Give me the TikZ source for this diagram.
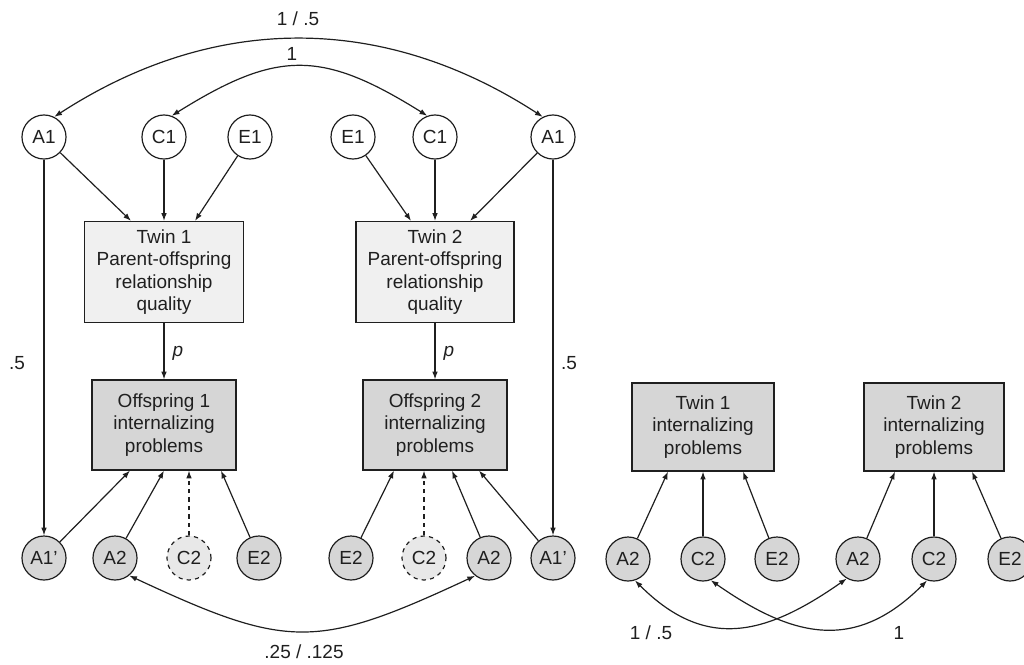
\documentclass[tikz,border=0pt]{standalone}
\usepackage{fontspec}
\setmainfont{Liberation Sans}
\usetikzlibrary{arrows.meta,calc}

\definecolor{lightbox}{gray}{0.94}
\definecolor{darkbox}{gray}{0.84}
\definecolor{dashfill}{gray}{0.91}
\definecolor{ink}{gray}{0.12}

\begin{document}
\begin{tikzpicture}[x=0.025cm, y=-0.025cm, line width=0.85pt,
  every node/.style={font=\fontsize{13.5}{16}\selectfont, text=ink},
  lat/.style={circle, draw=ink, minimum size=1.1cm, inner sep=0pt},
  latw/.style={lat, fill=white},
  latg/.style={lat, fill=darkbox},
  latd/.style={lat, fill=dashfill, dashed},
  obs/.style={rectangle, draw=ink, align=center, inner sep=2pt},
  arr/.style={draw=ink, -{Latex[length=5.5pt,width=4pt]}},
  cov/.style={draw=ink, {Latex[length=5.5pt,width=4pt]}-{Latex[length=5.5pt,width=4pt]}}
]

\useasboundingbox (0,0) rectangle (1024,664);

% top row
\node[latw] (a1l) at (44,137) {A1};
\node[latw] (c1l) at (164,137) {C1};
\node[latw] (e1l) at (250,137) {E1};
\node[latw] (e1r) at (353,137) {E1};
\node[latw] (c1r) at (435,137) {C1};
\node[latw] (a1r) at (553,137) {A1};

% boxes
\node[obs, fill=lightbox, minimum width=3.975cm, minimum height=2.525cm] (po1) at (164,272) {Twin 1\\Parent-offspring\\relationship\\quality};
\node[obs, fill=lightbox, minimum width=3.95cm, minimum height=2.525cm] (po2) at (435,272) {Twin 2\\Parent-offspring\\relationship\\quality};
\node[obs, fill=darkbox, minimum width=3.6cm, minimum height=2.25cm] (off1) at (164,425) {Offspring 1\\internalizing\\problems};
\node[obs, fill=darkbox, minimum width=3.6cm, minimum height=2.25cm] (off2) at (435,425) {Offspring 2\\internalizing\\problems};

% bottom row
\node[latg] (a1pl) at (44,558) {A1’};
\node[latg] (a2l) at (115,558) {A2};
\node[latd] (c2l) at (189,558) {C2};
\node[latg] (e2l) at (259,558) {E2};
\node[latg] (e2r) at (351,558) {E2};
\node[latd] (c2r) at (424,558) {C2};
\node[latg] (a2r) at (489,558) {A2};
\node[latg] (a1pr) at (553,558) {A1’};

% right model
\node[obs, fill=darkbox, minimum width=3.55cm, minimum height=2.2cm] (tw1) at (703,427) {Twin 1\\internalizing\\problems};
\node[obs, fill=darkbox, minimum width=3.5cm, minimum height=2.2cm] (tw2) at (934,427) {Twin 2\\internalizing\\problems};
\node[latg] (ra2l) at (628,559) {A2};
\node[latg] (rc2l) at (703,559) {C2};
\node[latg] (re2l) at (777,559) {E2};
\node[latg] (ra2r) at (858,559) {A2};
\node[latg] (rc2r) at (934,559) {C2};
\node[latg] (re2r) at (1010,559) {E2};

% paths into parent-offspring boxes
\draw[arr] (a1l) -- ($(po1.north)+(-33,0)$);
\draw[arr] (c1l) -- (po1.north);
\draw[arr] (e1l) -- ($(po1.north)+(31,0)$);
\draw[arr] (e1r) -- ($(po2.north)+(-24,0)$);
\draw[arr] (c1r) -- (po2.north);
\draw[arr] (a1r) -- ($(po2.north)+(35,0)$);

\draw[arr] (a1l) -- (a1pl);
\draw[arr] (a1r) -- (a1pr);

\draw[arr] (po1) -- (off1);
\draw[arr] (po2) -- (off2);

% paths into offspring boxes
\draw[arr] (a1pl) -- ($(off1.south)+(-34,0)$);
\draw[arr] (a2l) -- (off1.south);
\draw[arr, dashed] (c2l) -- ($(off1.south)+(25,0)$);
\draw[arr] (e2l) -- ($(off1.south)+(57,0)$);
\draw[arr] (e2r) -- ($(off2.south)+(-41,0)$);
\draw[arr, dashed] (c2r) -- ($(off2.south)+(-11,0)$);
\draw[arr] (a2r) -- ($(off2.south)+(17,0)$);
\draw[arr] (a1pr) -- ($(off2.south)+(44,0)$);

% right model paths
\draw[arr] (ra2l) -- ($(tw1.south)+(-35,0)$);
\draw[arr] (rc2l) -- (tw1.south);
\draw[arr] (re2l) -- ($(tw1.south)+(40,0)$);
\draw[arr] (ra2r) -- ($(tw2.south)+(-39,0)$);
\draw[arr] (rc2r) -- (tw2.south);
\draw[arr] (re2r) -- ($(tw2.south)+(38,0)$);

% correlations
\draw[cov] (a1l.63) to[out=33, in=147] (a1r.117);
\draw[cov] (c1l.70) to[out=32, in=148, looseness=1.25] (c1r.110);
\draw[cov] (a2l.-51) to[out=-25, in=-155, looseness=1.3] (a2r.-128);
\draw[cov] (ra2l.-72) to[out=-45, in=-145, looseness=1.2] (ra2r.-120);
\draw[cov] (rc2l.-70) to[out=-35, in=-135, looseness=1.2] (rc2r.-108);

% labels
\node (lbla) at (298,19) {1 / .5};
\node (lblc) at (292,54) {1};
\node (lblhl) at (17,363) {.5};
\node (lblhr) at (569,363) {.5};
\node (lblpl) at (178,353) {\itshape p};
\node (lblpr) at (449,353) {\itshape p};
\node (lblb) at (304,652) {.25 / .125};
\node (lblra) at (651,633) {1 / .5};
\node (lblrc) at (899,633) {1};

\end{tikzpicture}
\end{document}
